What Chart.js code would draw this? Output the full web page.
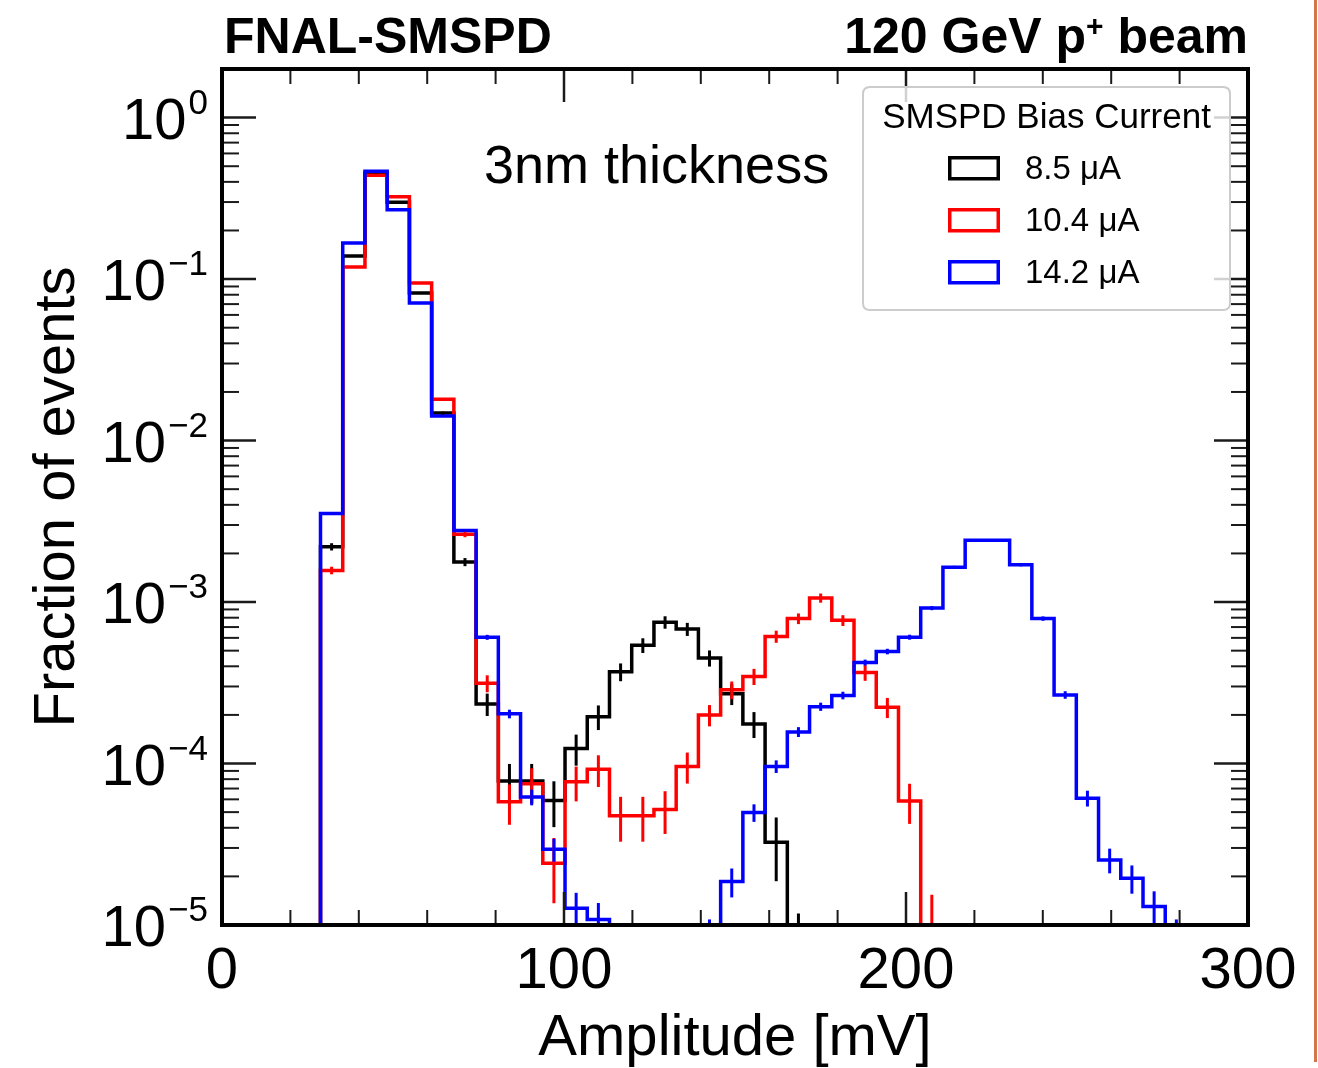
<!DOCTYPE html>
<html>
<head>
<meta charset="utf-8">
<title>FNAL-SMSPD amplitude</title>
<script src="https://cdn.jsdelivr.net/npm/chart.js@4.4.0/dist/chart.umd.min.js"></script>
<style>
  html, body { margin: 0; padding: 0; background: #fff; }
  #wrap { position: relative; width: 1318px; height: 1068px; }
  #edge { position: absolute; left: 1314px; top: 0; width: 3px; height: 1062px; background: #d3764a; }
</style>
</head>
<body>
<div id="wrap">
  <canvas id="ampChart" width="1318" height="1068"></canvas>
  <div id="edge"></div>
</div>
<script>
// histogram bin edges [mV], 39 bins
var binEdges = [28.8, 35.3, 41.8, 48.3, 54.8, 61.3, 67.8, 74.3, 80.8, 87.3,
                93.8, 100.3, 106.8, 113.3, 119.8, 126.3, 132.8, 139.3, 145.8, 152.3,
                158.8, 165.3, 171.8, 178.3, 184.8, 191.3, 197.8, 204.3, 210.8, 217.3,
                223.8, 230.3, 236.8, 243.3, 249.8, 256.3, 262.8, 269.3, 275.8, 282.3];

// fraction of events per bin (0 = empty bin)
var frac85 = [2.2e-3, 0.139, 0.45, 0.299, 0.082, 0.0148, 1.77e-3, 2.34e-4, 7.8e-5, 7.8e-5,
              5.9e-5, 1.24e-4, 1.95e-4, 3.7e-4, 5.4e-4, 7.5e-4, 6.8e-4, 4.5e-4, 2.7e-4, 1.76e-4,
              3.25e-5, 5.9e-6, 0, 0, 0, 0, 0, 0, 0, 0,
              0, 0, 0, 0, 0, 0, 0, 0, 0];
var frac104 = [1.57e-3, 0.119, 0.44, 0.323, 0.0946, 0.018, 2.63e-3, 3.14e-4, 5.8e-5, 7.5e-5,
               2.41e-5, 7.7e-5, 9.2e-5, 4.75e-5, 4.75e-5, 5.2e-5, 9.6e-5, 2.0e-4, 2.86e-4, 3.46e-4,
               6.12e-4, 7.9e-4, 1.06e-3, 7.7e-4, 3.66e-4, 2.23e-4, 5.86e-5, 9e-6, 0, 0,
               0, 0, 0, 0, 0, 0, 0, 0, 0];
var frac142 = [3.54e-3, 0.167, 0.466, 0.269, 0.0711, 0.0142, 2.77e-3, 6.05e-4, 2.03e-4, 6.2e-5,
               2.94e-5, 1.27e-5, 1.08e-5, 0, 0, 0, 0, 8.3e-6, 1.86e-5, 4.97e-5,
               9.6e-5, 1.57e-4, 2.25e-4, 2.64e-4, 4.22e-4, 4.94e-4, 6.06e-4, 9.17e-4, 1.64e-3, 2.41e-3,
               2.41e-3, 1.7e-3, 7.9e-4, 2.66e-4, 6.1e-5, 2.53e-5, 1.95e-5, 1.3e-5, 8.3e-6];

// estimated number of events per run (sets the stat. error bars)
var nEvents = [1.7e5, 2.2e5, 1.3e6];

var seriesValues = [frac85, frac104, frac142];
var seriesLabels = ['8.5 μA', '10.4 μA', '14.2 μA'];
var seriesColors = ['#000000', '#ff0000', '#0000ff'];

var xTicksMajor = [0, 100, 200, 300];
var xTicksMinor = [20, 40, 60, 80, 120, 140, 160, 180, 220, 240, 260, 280];
var yDecades = [0, -1, -2, -3, -4, -5];
var yMinorSteps = [2, 3, 4, 5, 6, 7, 8, 9];

var FLOOR = 1e-9;
var FONT = '"Liberation Sans", Arial, Helvetica, sans-serif';

// stepped outline of a histogram: one point per lower bin edge
function histPoints(values) {
    var pts = [{x: binEdges[0], y: FLOOR}];
    for (var i = 0; i < values.length; i++) {
        pts.push({x: binEdges[i], y: values[i] > 0 ? values[i] : FLOOR});
    }
    pts.push({x: binEdges[values.length], y: FLOOR});
    return pts;
}

var decor = {
    id: 'decor',
    afterDatasetsDraw: function(chart) {
        var ctx = chart.ctx;
        var a = chart.chartArea;
        var xs = chart.scales.x;
        var ys = chart.scales.y;

        // error bars
        ctx.save();
        ctx.beginPath();
        ctx.rect(a.left, a.top, a.right - a.left, a.bottom - a.top);
        ctx.clip();
        ctx.lineWidth = 3;
        seriesValues.forEach(function(vals, s) {
            ctx.strokeStyle = seriesColors[s];
            vals.forEach(function(v, i) {
                if (v <= 0) return;
                var err = Math.sqrt(v / nEvents[s]);
                var xc = xs.getPixelForValue((binEdges[i] + binEdges[i + 1]) / 2);
                ctx.beginPath();
                ctx.moveTo(xc, ys.getPixelForValue(v + err));
                ctx.lineTo(xc, ys.getPixelForValue(Math.max(v - err, FLOOR)));
                ctx.stroke();
            });
        });
        ctx.restore();

        // inward ticks on all four sides
        ctx.save();
        ctx.strokeStyle = '#1a1a1a';
        function tick(x1, y1, x2, y2, w) {
            ctx.lineWidth = w;
            ctx.beginPath();
            ctx.moveTo(x1, y1);
            ctx.lineTo(x2, y2);
            ctx.stroke();
        }
        xTicksMajor.forEach(function(t) {
            var x = xs.getPixelForValue(t);
            tick(x, a.bottom, x, a.bottom - 33, 2.5);
            tick(x, a.top, x, a.top + 33, 2.5);
        });
        xTicksMinor.forEach(function(t) {
            var x = xs.getPixelForValue(t);
            tick(x, a.bottom, x, a.bottom - 15, 2);
            tick(x, a.top, x, a.top + 15, 2);
        });
        yDecades.forEach(function(d) {
            var y = ys.getPixelForValue(Math.pow(10, d));
            tick(a.left, y, a.left + 34, y, 2.5);
            tick(a.right, y, a.right - 34, y, 2.5);
            yMinorSteps.forEach(function(m) {
                var v = m * Math.pow(10, d);
                if (v >= ys.max) return;
                var ym = ys.getPixelForValue(v);
                tick(a.left, ym, a.left + 17, ym, 2);
                tick(a.right, ym, a.right - 17, ym, 2);
            });
        });
        ctx.lineWidth = 4;
        ctx.strokeStyle = '#000';
        ctx.strokeRect(a.left, a.top, a.right - a.left, a.bottom - a.top);
        ctx.restore();

        // tick labels
        ctx.save();
        ctx.fillStyle = '#000';
        ctx.textBaseline = 'alphabetic';
        ctx.font = '58px ' + FONT;
        ctx.textAlign = 'center';
        xTicksMajor.forEach(function(t) {
            ctx.fillText(String(t), xs.getPixelForValue(t), a.bottom + 63);
        });
        ctx.textAlign = 'left';
        yDecades.forEach(function(d) {
            var y = ys.getPixelForValue(Math.pow(10, d));
            var expText = d === 0 ? '0' : '\u2212' + (-d);
            ctx.font = '35px ' + FONT;
            var ew = ctx.measureText(expText).width;
            ctx.font = '58px ' + FONT;
            var bw = ctx.measureText('10').width;
            var xEnd = a.left - 14;
            ctx.fillText('10', xEnd - ew - bw - 2, y + 21);
            ctx.font = '35px ' + FONT;
            ctx.fillText(expText, xEnd - ew, y - 4);
        });

        // axis titles
        ctx.font = '58px ' + FONT;
        ctx.textAlign = 'center';
        ctx.fillText('Amplitude [mV]', (a.left + a.right) / 2, a.bottom + 130);
        ctx.save();
        ctx.translate(74, (a.top + a.bottom) / 2);
        ctx.rotate(-Math.PI / 2);
        ctx.fillText('Fraction of events', 0, 0);
        ctx.restore();

        // header
        ctx.font = 'bold 50px ' + FONT;
        ctx.textAlign = 'left';
        ctx.fillText('FNAL-SMSPD', a.left + 2, 53);
        var partA = '120 GeV p', partB = '+', partC = ' beam';
        ctx.font = 'bold 50px ' + FONT;
        var wA = ctx.measureText(partA).width, wC = ctx.measureText(partC).width;
        ctx.font = 'bold 30px ' + FONT;
        var wB = ctx.measureText(partB).width;
        var xStart = a.right - wA - wB - wC;
        ctx.font = 'bold 50px ' + FONT;
        ctx.fillText(partA, xStart, 53);
        ctx.fillText(partC, xStart + wA + wB, 53);
        ctx.font = 'bold 30px ' + FONT;
        ctx.fillText(partB, xStart + wA, 36);

        // annotation
        ctx.font = '54px ' + FONT;
        ctx.fillText('3nm thickness', 484, 183);
        ctx.restore();

        // legend
        ctx.save();
        var lx = a.right - 385, ly = a.top + 18, lw = 367, lh = 223, r = 7;
        ctx.beginPath();
        ctx.moveTo(lx + r, ly);
        ctx.lineTo(lx + lw - r, ly);
        ctx.quadraticCurveTo(lx + lw, ly, lx + lw, ly + r);
        ctx.lineTo(lx + lw, ly + lh - r);
        ctx.quadraticCurveTo(lx + lw, ly + lh, lx + lw - r, ly + lh);
        ctx.lineTo(lx + r, ly + lh);
        ctx.quadraticCurveTo(lx, ly + lh, lx, ly + lh - r);
        ctx.lineTo(lx, ly + r);
        ctx.quadraticCurveTo(lx, ly, lx + r, ly);
        ctx.closePath();
        ctx.fillStyle = 'rgba(255,255,255,0.8)';
        ctx.fill();
        ctx.lineWidth = 2;
        ctx.strokeStyle = '#cccccc';
        ctx.stroke();

        ctx.fillStyle = '#000';
        ctx.font = '35px ' + FONT;
        ctx.textAlign = 'center';
        ctx.fillText('SMSPD Bias Current', lx + lw / 2, ly + 41);
        ctx.textAlign = 'left';
        ctx.font = '33px ' + FONT;
        chart.data.datasets.forEach(function(ds, i) {
            var by = ly + 69 + 52 * i;
            ctx.lineWidth = 3.5;
            ctx.strokeStyle = ds.borderColor;
            ctx.strokeRect(lx + 86.75, by + 1.75, 48.5, 21);
            ctx.fillStyle = '#000';
            ctx.fillText(ds.label, lx + 162, by + 23);
        });
        ctx.restore();
    }
};

var datasets = seriesValues.map(function(vals, s) {
    return {
        label: seriesLabels[s],
        data: histPoints(vals),
        borderColor: seriesColors[s],
        backgroundColor: 'rgba(0,0,0,0)',
        borderWidth: 3.5,
        stepped: true,
        fill: false,
        pointRadius: 0,
        tension: 0,
        order: 3 - s
    };
});

var ampChart = new Chart(document.getElementById('ampChart').getContext('2d'), {
    type: 'line',
    data: { datasets: datasets },
    options: {
        responsive: false,
        animation: false,
        layout: { padding: { left: 222, right: 70, top: 69, bottom: 143 } },
        plugins: {
            legend: { display: false },
            tooltip: { enabled: false }
        },
        scales: {
            x: { type: 'linear', min: 0, max: 300, display: false },
            y: { type: 'logarithmic', min: 1e-5, max: 2, display: false }
        }
    },
    plugins: [decor]
});
</script>
</body>
</html>
